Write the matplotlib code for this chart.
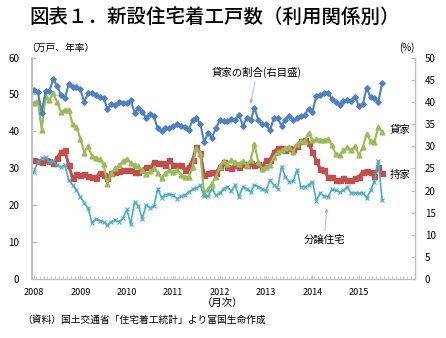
import matplotlib
matplotlib.use('Agg')
import matplotlib.pyplot as plt
from matplotlib.ticker import MultipleLocator

plt.rcParams['font.family'] = ['Noto Sans CJK JP', 'DejaVu Sans']

# monthly data, Jan 2008 - Jul 2015
years = ['2008', '2009', '2010', '2011', '2012', '2013', '2014', '2015']

# 持家 (万戸, 年率)
owned = [32.2, 32.0, 31.7, 32.2, 32.0, 31.5, 32.8, 34.5, 34.9, 30.8, 27.3, 28.5,
         28.2, 28.4, 27.9, 27.7, 27.5, 28.7, 28.2, 27.3, 28.8, 29.1, 29.3, 29.6,
         29.6, 29.6, 29.1, 29.1, 29.6, 30.4, 30.0, 31.7, 31.5, 31.5, 31.0, 32.2,
         31.0, 30.8, 30.8, 29.6, 30.4, 32.2, 35.7, 34.2, 28.2, 28.8, 29.1, 28.8,
         30.4, 31.6, 30.4, 30.2, 30.8, 30.4, 31.3, 30.8, 31.5, 30.8, 31.3, 30.4,
         32.2, 32.2, 34.5, 35.4, 35.4, 34.9, 35.4, 35.2, 36.0, 37.4, 37.6, 36.9,
         34.4, 32.1, 29.9, 29.6, 27.7, 27.7, 26.8, 26.8, 27.3, 26.8, 26.8, 27.3,
         27.7, 29.1, 29.4, 29.1, 27.9, 30.3, 28.7]

# 貸家 (万戸, 年率)
rental = [47.8, 48.3, 40.5, 49.3, 48.6, 50.3, 48.0, 45.2, 45.9, 45.9, 41.9, 41.2,
          38.0, 34.3, 36.0, 33.3, 32.9, 32.5, 31.1, 25.9, 28.7, 30.1, 30.8, 32.0,
          32.6, 31.5, 31.0, 30.6, 29.6, 28.5, 29.3, 30.0, 28.8, 27.3, 28.7, 29.6,
          29.1, 29.6, 28.2, 27.7, 27.6, 30.4, 35.6, 34.2, 23.2, 24.5, 25.9, 27.7,
          30.4, 31.9, 31.3, 32.2, 31.7, 31.3, 32.0, 30.8, 32.2, 36.6, 31.7, 29.9,
          30.4, 31.0, 33.1, 34.5, 34.9, 35.4, 35.7, 34.5, 36.6, 37.4, 37.4, 39.6,
          37.6, 38.0, 37.7, 37.6, 38.0, 36.3, 34.0, 33.6, 34.9, 35.7, 34.9, 36.0,
          33.6, 35.7, 39.4, 37.4, 37.1, 41.1, 39.9]

# 分譲住宅 (万戸, 年率)
for_sale = [29.1, 31.7, 32.7, 33.1, 31.7, 32.0, 30.8, 30.4, 30.8, 26.8, 25.5, 24.1,
            22.3, 20.7, 19.2, 15.2, 16.4, 15.9, 15.6, 14.7, 15.6, 16.0, 15.6, 16.5,
            18.9, 15.0, 20.8, 19.8, 16.4, 20.1, 19.4, 19.7, 24.5, 22.1, 22.8, 23.0,
            22.8, 21.8, 22.4, 22.8, 23.6, 24.3, 24.7, 25.5, 22.5, 22.5, 24.5, 22.8,
            23.3, 24.5, 25.0, 23.9, 25.5, 22.3, 25.0, 24.5, 23.6, 25.5, 25.0, 24.5,
            23.9, 26.8, 25.5, 24.5, 30.5, 27.7, 26.4, 26.5, 29.6, 25.0, 25.0, 25.5,
            26.4, 21.3, 23.3, 22.5, 22.3, 24.3, 24.1, 23.6, 24.1, 25.0, 23.3, 23.3,
            23.3, 23.4, 21.9, 24.1, 26.4, 32.1, 21.5]

# 貸家の割合 (%, 右目盛)
rental_share = [42.7, 42.3, 37.6, 42.5, 42.5, 45.1, 43.6, 41.5, 40.8, 44.0, 43.4, 43.4,
                42.8, 40.0, 41.9, 41.9, 41.5, 41.1, 40.9, 38.4, 39.6, 39.2, 40.0, 39.8,
                39.8, 40.4, 37.6, 38.6, 37.8, 36.3, 37.2, 36.7, 34.0, 33.5, 34.2, 34.2,
                34.5, 35.0, 34.5, 34.4, 33.6, 35.9, 36.3, 35.1, 31.0, 32.9, 31.9, 34.0,
                35.8, 35.6, 35.6, 36.2, 35.8, 37.1, 34.6, 36.3, 35.8, 38.6, 36.0, 34.9,
                34.9, 33.6, 36.3, 36.3, 34.6, 36.0, 36.9, 35.8, 36.3, 36.9, 37.1, 38.4,
                37.8, 41.4, 41.6, 42.1, 42.1, 40.6, 39.9, 39.3, 40.1, 40.4, 40.3, 41.2,
                39.0, 39.5, 43.1, 41.0, 40.8, 39.9, 44.2]

months = list(range(len(owned)))

W, H = 446, 338
fig = plt.figure(figsize=(W / 100, H / 100), dpi=100)
ax = fig.add_axes([32 / W, 1 - 279.3 / H, (415 - 32) / W, (279.3 - 57.5) / H])
ax2 = ax.twinx()

red = '#C0504D'
green = '#9BBB59'
cyan = '#4BACC6'
blue = '#4F81BD'

ax.plot(months, owned, color=red, lw=2.2, marker='s', ms=3.6, mec=red, zorder=2)
ax.plot(months, rental, color=green, lw=1.5, marker='^', ms=3.5, mec=green, zorder=3)
ax.plot(months, for_sale, color=cyan, lw=1.2, marker='x', ms=3.0, mew=0.8, zorder=4)
ax2.plot(months, rental_share, color=blue, lw=1.5, marker='D', ms=2.8, mec=blue)

ax.set_xlim(-0.5, 98.5)
ax.set_ylim(0, 60)
ax2.set_ylim(0, 50)
ax.yaxis.set_major_locator(MultipleLocator(10))
ax2.yaxis.set_major_locator(MultipleLocator(5))

ax.set_xticks([12 * i for i in range(len(years))])
ax.set_xticklabels(years)
ax.set_xticks([i - 0.5 for i in range(100)], minor=True)

gray = '#BFBFBF'
for a in (ax, ax2):
    a.spines['top'].set_visible(False)
    for s in ('left', 'right', 'bottom'):
        a.spines[s].set_color(gray)
ax.spines['left'].set_linewidth(1.5)
ax2.spines['right'].set_linewidth(1.0)

ax.tick_params(axis='y', direction='in', length=3, color=gray, labelsize=7, pad=9)
ax2.tick_params(axis='y', direction='in', length=3, color=gray, labelsize=7, pad=7)
ax.tick_params(axis='x', which='major', direction='in', length=3, color=gray,
               labelsize=6.5, pad=6)
ax.tick_params(axis='x', which='minor', direction='in', length=2, color=gray)

# texts
def fx(px):
    return px / W

def fy(py):
    return 1 - py / H

fig.text(fx(215), fy(17), '図表１．新設住宅着工戸数（利用関係別）', fontsize=14,
         ha='center', va='center', fontweight='medium')
fig.text(fx(60), fy(48), '（万戸、年率）', fontsize=7, ha='center', va='center')
fig.text(fx(407), fy(48), '(%)', fontsize=7, ha='center', va='center')
fig.text(fx(400), fy(130), '貸家', fontsize=7.5, ha='center', va='center')
fig.text(fx(400), fy(175), '持家', fontsize=7.5, ha='center', va='center')
fig.text(fx(223), fy(303), '（月次）', fontsize=7.5, ha='center', va='center')
fig.text(fx(22), fy(320), '（資料）国土交通省「住宅着工統計」より富国生命作成',
         fontsize=7, ha='left', va='center')

arrow = dict(arrowstyle='-|>', color='#8EB4E3', lw=0.6, mutation_scale=5,
             shrinkA=1, shrinkB=0)
ax2.annotate('貸家の割合(右目盛)', xy=(56.0, 39.6), xycoords='data',
             xytext=(fx(257), fy(72)), textcoords='figure fraction',
             fontsize=7.5, ha='center', va='center', arrowprops=arrow)
ax.annotate('分譲住宅', xy=(75.7, 19.2), xycoords='data',
            xytext=(fx(324), fy(240)), textcoords='figure fraction',
            fontsize=7.5, ha='center', va='center', arrowprops=arrow)

fig.savefig('out.png', dpi=100)
